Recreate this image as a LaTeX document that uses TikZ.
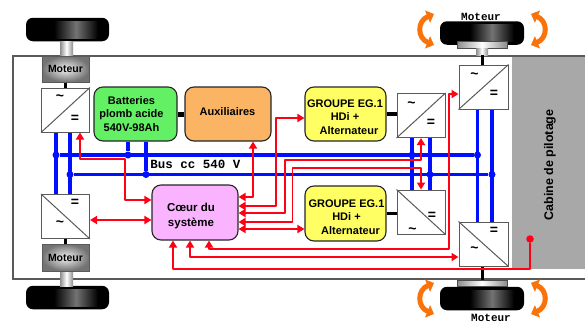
\documentclass[tikz,border=0pt]{standalone}
\usepackage{fontspec}
\setmainfont{Liberation Sans}
\newfontfamily\monof{Liberation Mono}
\usetikzlibrary{arrows.meta,calc}
\definecolor{bluebus}{RGB}{0,15,255}
\definecolor{redw}{RGB}{255,0,20}
\definecolor{framec}{RGB}{90,90,90}
\definecolor{cabinc}{RGB}{168,168,168}
\definecolor{orangec}{RGB}{250,115,10}
\definecolor{batc}{RGB}{100,240,100}
\definecolor{auxc}{RGB}{250,180,100}
\definecolor{grpc}{RGB}{255,255,100}
\definecolor{hrtc}{RGB}{250,180,255}
\tikzset{
  bus/.style={draw=bluebus,line width=3.6pt},
  dotb/.style={circle,fill=bluebus,minimum size=7pt,inner sep=0pt},
  wire/.style={draw=redw,line width=1.9pt,line join=round},
  two/.style={wire,{Triangle[length=7pt,width=8pt]}-{Triangle[length=7pt,width=8pt]}},
  one/.style={wire,{Triangle[length=7pt,width=8pt]}-},
  link/.style={draw=black,line width=3.5pt},
  conv/.style={draw=framec,line width=1pt,fill=white,minimum width=#1,minimum height=44pt,inner sep=0pt},
  conv/.default=48pt,
  sym/.style={font=\bfseries\fontsize{14}{14}\selectfont,inner sep=0pt},
  block/.style={draw=black!85,line width=1.1pt,rounded corners=9pt,inner sep=0pt},
  blocktext/.style={inner sep=0pt,align=center,text=black,font=\bfseries\fontsize{11}{13.6}\selectfont},
  moteurb/.style={draw=framec,line width=1pt,minimum width=47pt,minimum height=26pt,inner sep=0pt,
     inner color=white!90!gray,outer color=black!55,font=\bfseries\fontsize{10.5}{12}\selectfont},
  wheel/.style={fill=black,rounded corners=7pt,inner sep=0pt,minimum height=23.5pt},
  sheen/.style={left color=black,right color=black,middle color=black!55,inner sep=0pt,minimum height=17pt,minimum width=44pt},
  shaft/.style={left color=black!45,right color=black!45,middle color=white,inner sep=0pt},
  turn/.style={draw=orangec,line width=5pt,{Triangle[length=7pt,width=13pt]}-{Triangle[length=7pt,width=13pt]}},
  motlabel/.style={font=\monof\bfseries\fontsize{11}{11}\selectfont,inner sep=0pt}
}
\begin{document}
\begin{tikzpicture}[x=1pt,y=-1pt]
\useasboundingbox (0,0) rectangle (585,324);
\fill[white] (0,0) rectangle (585,324);
% frame and cabin
\node[fill=cabinc,minimum width=73pt,minimum height=212pt,inner sep=0pt] (cabin) at (548.5,163) {};
\draw[framec,line width=1.2pt] (585,56) -- (13,56) -- (13,279) -- (585,279);
\node[rotate=90,font=\bfseries\fontsize{12.5}{13}\selectfont,text=black,inner sep=0pt] (cabtxt) at (550,165) {Cabine de pilotage};
% wheels
\node[wheel,minimum width=83pt] (w1) at (67.5,29.5) {};
\node[wheel,minimum width=83pt] (w2) at (67.5,297.5) {};
\node[wheel,minimum width=84pt] (w3) at (482,33) {};
\node[wheel,minimum width=84pt] (w4) at (482,298.5) {};
\node[sheen] (s1) at (76,29.5) {};
\node[sheen] (s2) at (76,297.5) {};
\node[sheen] (s3) at (492,33) {};
\node[sheen] (s4) at (492,298.5) {};
\node[shaft,minimum width=13pt,minimum height=15pt] (sh1) at (66.5,48.5) {};
\node[shaft,minimum width=13pt,minimum height=16pt] (sh2) at (66.5,278.5) {};
\node[shaft,minimum width=50pt,minimum height=7pt,draw=black!70,line width=.6pt] (h3) at (482,44.5) {};
\node[shaft,minimum width=50pt,minimum height=6.5pt,draw=black!70,line width=.6pt] (h4) at (482,283.5) {};
\node[shaft,minimum width=12pt,minimum height=7pt] (sh3) at (482,51.5) {};
% orange rotation arrows
\coordinate (o1a) at (434,14); \coordinate (o1b) at (434,45);
\coordinate (o2a) at (531,14); \coordinate (o2b) at (531,45);
\coordinate (o3a) at (434,283); \coordinate (o3b) at (434,314);
\coordinate (o4a) at (531,283); \coordinate (o4b) at (531,314);
\draw[turn] (o1a) .. controls (417,21) and (417,38) .. (o1b);
\draw[turn] (o2a) .. controls (548,21) and (548,38) .. (o2b);
\draw[turn] (o3a) .. controls (417,290) and (417,307) .. (o3b);
\draw[turn] (o4a) .. controls (548,290) and (548,307) .. (o4b);
\node[motlabel] (mt) at (481,16.5) {Moteur};
\node[motlabel] (mb) at (491,317.5) {Moteur};
% named nodes
\node[conv] (c0) at (65.5,110) {};
\node[conv] (c9) at (65.5,216.5) {};
\node[moteurb] (m1) at (65.5,69) {Moteur};
\node[moteurb,minimum height=27pt] (m2) at (65.5,257.5) {Moteur};
\node[block,fill=batc,minimum width=83pt,minimum height=54pt] (bat) at (135.5,114) {};
\node[blocktext] (battxt) at (131.5,114) {Batteries\\plomb acide\\540V-98Ah};
\node[block,fill=auxc,minimum width=86pt,minimum height=54pt] (aux) at (228,114) {};
\node[blocktext] (auxtxt) at (227.5,112) {Auxiliaires};
\node[block,fill=grpc,minimum width=81pt,minimum height=54pt] (g1) at (345.5,114) {};
\node[blocktext] (g1txt) at (345,117) {GROUPE EG.1\\HDi +\\\hspace*{8pt}Alternateur};
\node[block,fill=grpc,minimum width=81pt,minimum height=55pt] (g2) at (345.5,213.5) {};
\node[blocktext] (g2txt) at (346.5,217) {GROUPE EG.1\\HDi +\\\hspace*{8pt}Alternateur};
\node[block,fill=hrtc,minimum width=86pt,minimum height=55pt] (heart) at (195,212.5) {};
\node[blocktext,font=\bfseries\fontsize{11.5}{14.5}\selectfont] (hrttxt) at (191,216) {Cœur du\\système};
\node[conv] (c1) at (421,115.5) {};
\node[conv] (c2) at (421,212) {};
\node[conv=49pt] (c3) at (483.5,87) {};
\node[conv=49pt] (c4) at (483.5,244) {};
% bus
\node[dotb] (d1) at (56,155) {};
\node[dotb] (d2) at (128,155) {};
\node[dotb] (d3) at (412,155) {};
\node[dotb] (d4) at (477.5,155) {};
\node[dotb] (d5) at (70,174.5) {};
\node[dotb] (d6) at (146,174.5) {};
\node[dotb] (d7) at (430,174.5) {};
\node[dotb] (d8) at (492,174.5) {};
\draw[bus] (d1) -- (d4);
\draw[bus] (d5) -- (d8);
\draw[bus] (c0.south -| d1) -- (c9.north -| d1);
\draw[bus] (c0.south -| d5) -- (c9.north -| d5);
\draw[bus] (bat.south -| d2) -- (d2);
\draw[bus] (bat.south -| d6) -- (d6);
\draw[bus] (c1.south -| d3) -- (c2.north -| d3);
\draw[bus] (c1.south -| d7) -- (c2.north -| d7);
\draw[bus] (c3.south -| d4) -- (c4.north -| d4);
\draw[bus] (c3.south -| d8) -- (c4.north -| d8);
\node[font=\monof\bfseries\fontsize{12.5}{13}\selectfont,inner sep=0pt] (bustxt) at (195.5,164.5) {Bus cc 540 V};
% black links
\draw[link,line width=5pt] (bat.east) -- (aux.west);
\draw[link] (g1.east) -- (c1.west |- g1.east);
\draw[link] (g2.east) -- (c2.west |- g2.east);
\draw[link,line width=3pt] (m1.south) -- (c0.north);
\draw[link,line width=3pt] (c9.south) -- (m2.north);
\draw[link,line width=3pt] (sh3.south) -- (c3.north -| sh3.south);
\draw[link,line width=3pt] (c4.south -| h4.north) -- (h4.north);
% red wires
\draw[two] (c0.south -| 80,0) -- (80,159) -- (125,159) -- (125,200) -- (heart.west |- 0,200);
\draw[two] (c9.east |- 0,220) -- (heart.west |- 0,220);
\draw[two] (aux.south -| 253,0) -- (253,197) -- (heart.east |- 0,197);
\draw[two] (heart.east |- 0,206) -- (276,206) -- (276,118) -- (g1.west |- 0,118);
\draw[two] (heart.east |- 0,213) -- (285,213) -- (285,160) -- (421,160) -- (c1.south);
\draw[two] (heart.east |- 0,222) -- (292.5,222) -- (292.5,168) -- (421,168) -- (c2.north);
\draw[two] (heart.east |- 0,229) -- (g2.west |- 0,229);
\draw[two] (heart.south -| 209,0) -- (209,249) -- (449,249) -- (449,94) -- (c3.west |- 0,94);
\draw[two] (heart.south -| 190,0) -- (190,257) -- (c4.west |- 0,257);
\node[circle,fill=redw,minimum size=7.5pt,inner sep=0pt] (sens) at (530,239) {};
\draw[one] (heart.south -| 173,0) -- (173,269) -- (530,269) -- (sens);
% converter diagonals and symbols
\draw[framec,line width=1pt] (c0.south west) -- (c0.north east);
\draw[framec,line width=1pt] (c9.north west) -- (c9.south east);
\draw[framec,line width=1pt] (c1.south west) -- (c1.north east);
\draw[framec,line width=1pt] (c2.north west) -- (c2.south east);
\draw[framec,line width=1pt] (c3.south west) -- (c3.north east);
\draw[framec,line width=1pt] (c4.north west) -- (c4.south east);
\node[sym] (t0) at (60,98) {\textasciitilde};
\node[sym] (e0) at (75,119) {=};
\node[sym] (t9) at (60,224) {\textasciitilde};
\node[sym] (e9) at (75,203) {=};
\node[sym] (t1) at (411.5,105) {\textasciitilde};
\node[sym] (e1) at (431,123) {=};
\node[sym] (t2) at (412.5,231) {\textasciitilde};
\node[sym] (e2) at (432,216) {=};
\node[sym] (t3) at (474.5,76) {\textasciitilde};
\node[sym] (e3) at (494,94) {=};
\node[sym] (t4) at (474.5,250) {\textasciitilde};
\node[sym] (e4) at (494,231) {=};
\end{tikzpicture}
\end{document}
